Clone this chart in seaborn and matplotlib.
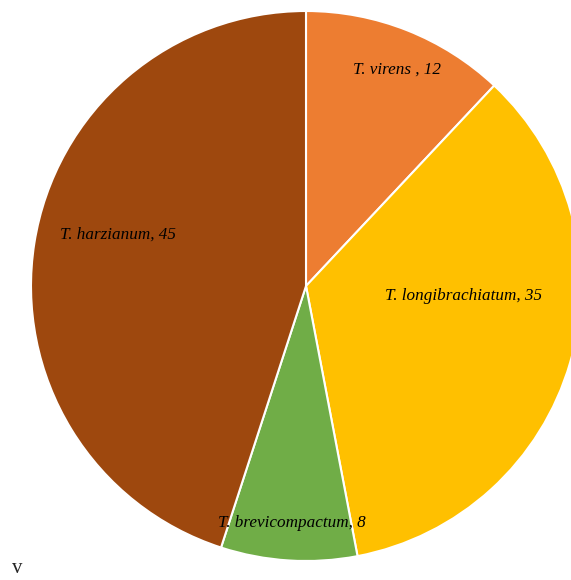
import matplotlib
matplotlib.use("Agg")
import matplotlib.pyplot as plt
import seaborn as sns
import numpy as np

species = ["T. virens ", "T. longibrachiatum", "T. brevicompactum", "T. harzianum"]
counts = [12, 35, 8, 45]
colors = ["#ED7D31", "#FFC000", "#70AD47", "#9E480E"]

# label anchor (radius fraction, angle in degrees) for each wedge
label_pos = [(0.855, 67.2), (0.575, -3.6), (0.862, -93.4), (0.708, 164.8)]


def main() -> None:
    sns.set_style("white")
    plt.rcParams["font.family"] = ["Liberation Serif", "DejaVu Serif"]
    fig = plt.figure(figsize=(5.71, 5.80), dpi=100)
    ax = fig.add_axes([31 / 571, 19 / 580, 550 / 571, 550 / 580])
    palette = sns.color_palette(colors)
    ax.pie(counts, colors=palette, startangle=90, counterclock=False,
           wedgeprops=dict(edgecolor="white", linewidth=1.5))
    for name, val, (r, ang) in zip(species, counts, label_pos):
        a = np.deg2rad(ang)
        ax.text(r * np.cos(a), r * np.sin(a), f"{name}, {val}", ha="center", va="center",
                fontsize=12.3, style="italic", color="black")
    ax.set_xlim(-1, 1)
    ax.set_ylim(-1, 1)
    ax.axis("off")
    fig.text(12 / 571, 1 - 573 / 580, "v", fontsize=15, va="baseline", ha="left")
    fig.savefig("out.png", dpi=100)


if __name__ == "__main__":
    main()
